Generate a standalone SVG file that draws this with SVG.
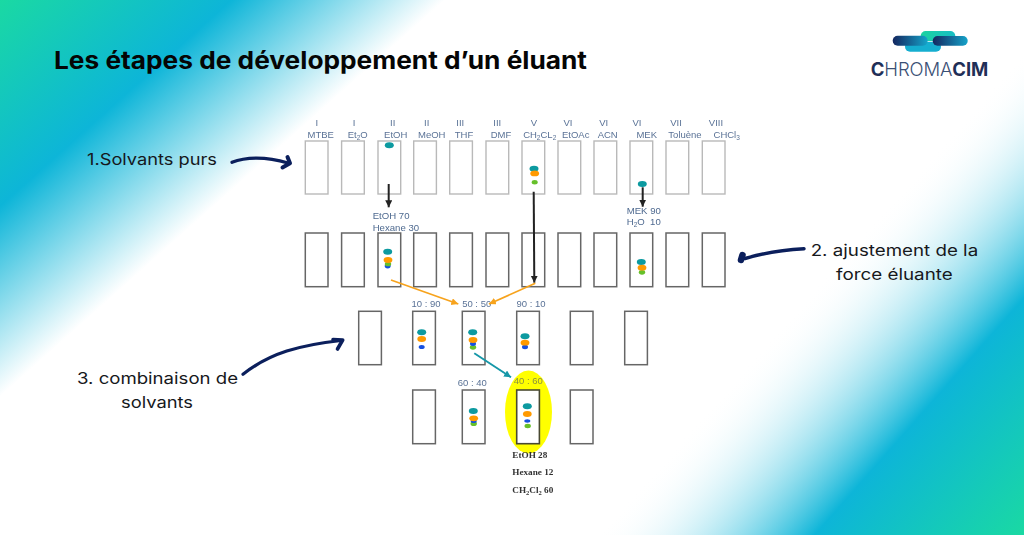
<svg xmlns="http://www.w3.org/2000/svg" width="1024" height="535" viewBox="0 0 1024 535">
<style>
.t{font-family:"Inter","Open Sans",sans-serif;font-weight:400;font-size:15.5px;fill:#16181c}
.h{font-family:"Inter","Open Sans",sans-serif;font-weight:700;font-size:24.5px;fill:#050505}
.s{font-family:"Liberation Sans",Arial,sans-serif;font-size:9.5px;fill:#5a7296;text-anchor:middle}
.l{font-family:"Liberation Sans",Arial,sans-serif;font-size:9.6px;fill:#4f6a90}
.b{font-family:"Liberation Serif","Times New Roman",serif;font-weight:700;font-size:9.2px;fill:#333}
.p1{fill:#fff;stroke:#b9b9b9;stroke-width:1.4}
.p2{fill:#fff;stroke:#666;stroke-width:1.5}
.te{fill:#0b9aa0;rx:4.5px;ry:3px}.or{fill:#ff9a00;rx:4.4px;ry:2.9px}.gr{fill:#66c02a}.bl{fill:#1450e0}
.k{fill:none;stroke:#222;stroke-width:2;marker-end:url(#mk)}
.o{fill:none;stroke:#f7a31c;stroke-width:1.7;marker-end:url(#mo)}
.c{fill:none;stroke:#1497a8;stroke-width:1.9;marker-end:url(#mc)}
.n{fill:none;stroke:#0b1f5c;stroke-linecap:round;stroke-linejoin:round}
</style>
<defs>
<linearGradient id="g1" gradientUnits="userSpaceOnUse" x1="0" y1="0" x2="197" y2="221"><stop offset="0" stop-color="#1ad9a3"/><stop offset=".52" stop-color="#0db5d8"/><stop offset="1" stop-color="#fff"/></linearGradient>
<linearGradient id="g2" gradientUnits="userSpaceOnUse" x1="1024" y1="535" x2="784" y2="323"><stop offset="0" stop-color="#1ad9a3"/><stop offset=".49" stop-color="#0db5d8"/><stop offset="1" stop-color="#fff" stop-opacity="0"/></linearGradient>
<linearGradient id="lg" x1="0" x2="1" y1="0" y2="0"><stop offset="0" stop-color="#1cd3a0"/><stop offset="1" stop-color="#17bdc4"/></linearGradient>
<linearGradient id="ld" x1="0" x2="1" y1="0" y2="0"><stop offset="0" stop-color="#14265f"/><stop offset="1" stop-color="#15a3c9"/></linearGradient>
<marker id="mk" markerUnits="userSpaceOnUse" markerWidth="9" markerHeight="9" refX="7" refY="3.5" orient="auto"><path d="M0 0L7 3.5L0 7z" fill="#222"/></marker>
<marker id="mo" markerUnits="userSpaceOnUse" markerWidth="9" markerHeight="9" refX="7" refY="3.5" orient="auto"><path d="M0 0L7 3.5L0 7z" fill="#f7a31c"/></marker>
<marker id="mc" markerUnits="userSpaceOnUse" markerWidth="9" markerHeight="9" refX="7" refY="3.5" orient="auto"><path d="M0 0L7 3.5L0 7z" fill="#1497a8"/></marker>
<filter id="soft" x="-5%" y="-5%" width="110%" height="110%"><feGaussianBlur stdDeviation="0.45"/></filter>
</defs>
<rect id="background" width="1024" height="535" fill="#fff"/>
<rect width="1024" height="535" fill="url(#g1)"/>
<rect width="1024" height="535" fill="url(#g2)"/>
<text id="title" class="h" x="54" y="69" textLength="533" lengthAdjust="spacingAndGlyphs">Les étapes de développement d’un éluant</text>

<g id="logo">
<rect x="905" y="41.7" width="36" height="10" rx="5" fill="#15aed0"/>
<rect x="920.7" y="31" width="34.6" height="10" rx="5" fill="url(#lg)"/>
<rect x="892.7" y="35.7" width="35" height="10" rx="5" fill="url(#ld)"/>
<rect x="932.7" y="36" width="35" height="9.7" rx="4.8" fill="url(#ld)"/>
<text x="870.7" y="76" font-family="Inter,'Open Sans',sans-serif" font-size="18.5" fill="#3a5075" textLength="117.6"><tspan font-weight="700" fill="#1f2f57">C</tspan><tspan font-weight="300">HROMA</tspan><tspan font-weight="700" fill="#1f2f57">CIM</tspan></text>
</g>

<g id="label-1"><text class="t" x="87" y="165" textLength="130" lengthAdjust="spacingAndGlyphs">1.Solvants purs</text></g>
<g id="label-2"><text class="t" x="810.7" y="255.7" textLength="167.5" lengthAdjust="spacingAndGlyphs">2. ajustement de la</text><text class="t" x="836" y="280" textLength="116.7" lengthAdjust="spacingAndGlyphs">force éluante</text></g>
<g id="label-3"><text class="t" x="77" y="384" textLength="161" lengthAdjust="spacingAndGlyphs">3. combinaison de</text><text class="t" x="121" y="408" textLength="72" lengthAdjust="spacingAndGlyphs">solvants</text></g>

<g filter="url(#soft)">
<g id="highlight"><ellipse cx="528.5" cy="412" rx="23.5" ry="41.5" fill="#ffff00"/></g>

<g id="row1-headers">
<text class="s" x="316.7" y="125.7">I</text><text class="s" x="320.7" y="137.7">MTBE</text>
<text class="s" x="354" y="125.7">I</text><text class="s" x="357.7" y="137.7">Et<tspan font-size="6.5" dy="2">2</tspan><tspan dy="-2">O</tspan></text>
<text class="s" x="392.7" y="125.7">II</text><text class="s" x="395.7" y="137.7">EtOH</text>
<text class="s" x="426.7" y="125.7">II</text><text class="s" x="431.7" y="137.7">MeOH</text>
<text class="s" x="460.3" y="125.7">III</text><text class="s" x="464" y="137.7">THF</text>
<text class="s" x="497.3" y="125.7">III</text><text class="s" x="501" y="137.7">DMF</text>
<text class="s" x="534" y="125.7">V</text><text class="s" x="539.7" y="137.7">CH<tspan font-size="6.5" dy="2">2</tspan><tspan dy="-2">CL</tspan><tspan font-size="6.5" dy="2">2</tspan></text>
<text class="s" x="568" y="125.7">VI</text><text class="s" x="575.7" y="137.7">EtOAc</text>
<text class="s" x="603.7" y="125.7">VI</text><text class="s" x="607.7" y="137.7">ACN</text>
<text class="s" x="637" y="125.7">VI</text><text class="s" x="646.7" y="137.7">MEK</text>
<text class="s" x="676" y="125.7">VII</text><text class="s" x="685" y="137.7">Toluène</text>
<text class="s" x="716" y="125.7">VIII</text><text class="s" x="726.7" y="137.7">CHCl<tspan font-size="6.5" dy="2">3</tspan></text>
</g>

<g id="row1">
<g id="r1-mtbe"><rect class="p1" x="305.3" y="141" width="22.7" height="53"/></g>
<g id="r1-et2o"><rect class="p1" x="341.6" y="141" width="22.7" height="53"/></g>
<g id="r1-etoh"><rect class="p1" x="378" y="141" width="22.7" height="53"/><ellipse class="te" cx="389.3" cy="145.3"/></g>
<g id="r1-meoh"><rect class="p1" x="413.7" y="141" width="22.7" height="53"/></g>
<g id="r1-thf"><rect class="p1" x="449.7" y="141" width="22.7" height="53"/></g>
<g id="r1-dmf"><rect class="p1" x="486" y="141" width="22.7" height="53"/></g>
<g id="r1-ch2cl2"><rect class="p1" x="522" y="141" width="22.7" height="53"/><ellipse class="te" cx="534" cy="168.7"/><ellipse class="or" cx="534.7" cy="173.4"/><ellipse class="gr" cx="534.7" cy="182.3" rx="3" ry="2.2"/></g>
<g id="r1-etoac"><rect class="p1" x="558" y="141" width="22.7" height="53"/></g>
<g id="r1-acn"><rect class="p1" x="594" y="141" width="22.7" height="53"/></g>
<g id="r1-mek"><rect class="p1" x="630" y="141" width="22.7" height="53"/><ellipse class="te" cx="642.3" cy="184"/></g>
<g id="r1-toluene"><rect class="p1" x="666" y="141" width="22.7" height="53"/></g>
<g id="r1-chcl3"><rect class="p1" x="702.3" y="141" width="22.7" height="53"/></g>
</g>

<g id="row2">
<g id="r2-1"><rect class="p2" x="305.3" y="233" width="22.7" height="53.7"/></g>
<g id="r2-2"><rect class="p2" x="341.6" y="233" width="22.7" height="53.7"/></g>
<g id="r2-3"><rect class="p2" x="378" y="233" width="22.7" height="53.7"/><ellipse class="te" cx="387.7" cy="251.7"/><ellipse class="bl" cx="387.7" cy="266" rx="3" ry="2.4"/><ellipse class="gr" cx="388" cy="264" rx="3.2" ry="2.3"/><ellipse class="or" cx="388" cy="260"/></g>
<g id="r2-4"><rect class="p2" x="413.7" y="233" width="22.7" height="53.7"/></g>
<g id="r2-5"><rect class="p2" x="449.7" y="233" width="22.7" height="53.7"/></g>
<g id="r2-6"><rect class="p2" x="486" y="233" width="22.7" height="53.7"/></g>
<g id="r2-7"><rect class="p2" x="522" y="233" width="22.7" height="53.7"/></g>
<g id="r2-8"><rect class="p2" x="558" y="233" width="22.7" height="53.7"/></g>
<g id="r2-9"><rect class="p2" x="594" y="233" width="22.7" height="53.7"/></g>
<g id="r2-10"><rect class="p2" x="630" y="233" width="22.7" height="53.7"/><ellipse class="te" cx="641.3" cy="262"/><ellipse class="gr" cx="642" cy="272.3" rx="3.2" ry="2.4"/><ellipse class="or" cx="642" cy="267.7"/></g>
<g id="r2-11"><rect class="p2" x="666" y="233" width="22.7" height="53.7"/></g>
<g id="r2-12"><rect class="p2" x="702.3" y="233" width="22.7" height="53.7"/></g>
</g>

<g id="row3">
<g id="r3-1"><rect class="p2" x="358.7" y="311.3" width="22.7" height="53.4"/></g>
<g id="r3-2"><rect class="p2" x="412.7" y="311.3" width="22.7" height="53.4"/><ellipse class="te" cx="421.7" cy="332.3"/><ellipse class="or" cx="421.7" cy="339"/><ellipse class="bl" cx="421.7" cy="347" rx="3" ry="2"/></g>
<g id="r3-3"><rect class="p2" x="462.3" y="311.3" width="22.7" height="53.4"/><ellipse class="te" cx="472.7" cy="332.3"/><ellipse class="gr" cx="473" cy="347.3" rx="3.2" ry="2.4"/><ellipse class="bl" cx="473" cy="343.7" rx="3" ry="2.2"/><ellipse class="or" cx="473" cy="340"/></g>
<g id="r3-4"><rect class="p2" x="516.7" y="311.3" width="22.7" height="53.4"/><ellipse class="te" cx="525" cy="336.3"/><ellipse class="bl" cx="525" cy="347" rx="3" ry="2.2"/><ellipse class="or" cx="525" cy="342.7"/></g>
<g id="r3-5"><rect class="p2" x="570.3" y="311.3" width="22.7" height="53.4"/></g>
<g id="r3-6"><rect class="p2" x="624.7" y="311.3" width="22.7" height="53.4"/></g>
</g>

<g id="row4">
<g id="r4-1"><rect class="p2" x="412.7" y="390" width="22.7" height="53.7"/></g>
<g id="r4-2"><rect class="p2" x="462.3" y="390" width="22.7" height="53.7"/><ellipse class="te" cx="473.3" cy="411"/><ellipse class="gr" cx="473.7" cy="423.7" rx="3.2" ry="2.4"/><ellipse class="bl" cx="473.7" cy="421" rx="3" ry="2"/><ellipse class="or" cx="473.7" cy="418.3"/></g>
<g id="r4-3"><rect x="516.7" y="390" width="22.7" height="53.7" fill="#fff" stroke="#4a4a30" stroke-width="1.6"/><ellipse class="te" cx="527.3" cy="406.3"/><ellipse class="or" cx="527.3" cy="414"/><ellipse class="bl" cx="527.3" cy="421" rx="3" ry="1.7"/><ellipse class="gr" cx="527.7" cy="426" rx="3.2" ry="2.2"/></g>
<g id="r4-4"><rect class="p2" x="570.3" y="390" width="22.7" height="53.7"/></g>
</g>

<g id="mix-labels">
<text class="l" x="372.7" y="219">EtOH 70</text>
<text class="l" x="372.7" y="230.7">Hexane 30</text>
<text class="l" x="626.7" y="214">MEK 90</text>
<text class="l" x="626.7" y="225.3">H<tspan font-size="6.5" dy="2">2</tspan><tspan dy="-2">O&#160;&#160;10</tspan></text>
<text class="s" x="426" y="307.3">10 : 90</text>
<text class="s" x="476.7" y="307.3">50 : 50</text>
<text class="s" x="531" y="306.7">90 : 10</text>
<text class="s" x="472.3" y="386">60 : 40</text>
<text class="s" x="528.3" y="384" style="fill:#8a9040">40 : 60</text>
<text class="b" x="512.3" y="458.3">EtOH 28</text>
<text class="b" x="512.3" y="475.3">Hexane 12</text>
<text class="b" x="512.3" y="492.7">CH<tspan font-size="6.5" dy="2">2</tspan><tspan dy="-2">Cl</tspan><tspan font-size="6.5" dy="2">2</tspan><tspan dy="-2"> 60</tspan></text>
</g>

<g id="connectors">
<path class="k" d="M388.7 184V207.3"/>
<path class="k" d="M533.7 191.7L534.3 282.7"/>
<path class="k" d="M642.7 187.3V206.7"/>
<path class="o" d="M391 280L458.3 304"/>
<path class="o" d="M535.3 283.3L489 304"/>
<path class="c" d="M474.3 353.3L511 377.3"/>
</g>
</g>

<g id="callouts">
<path class="n" stroke-width="3.2" d="M232 162.3C245 157 265 156 288 163"/>
<path class="n" stroke-width="4" d="M287.5 157L290 163.3L282.5 167.5"/>
<path class="n" stroke-width="3.2" d="M243 374.3C270 353 300 345 341 340.5"/>
<path class="n" stroke-width="3.6" d="M333 339.5L342.7 340L337.5 349"/>
<path class="n" stroke-width="3.4" d="M804 248.7C780 250 760 254 745 258.5"/>
<path class="n" stroke-width="6.5" d="M742.5 255L741 260"/>
</g>
</svg>
